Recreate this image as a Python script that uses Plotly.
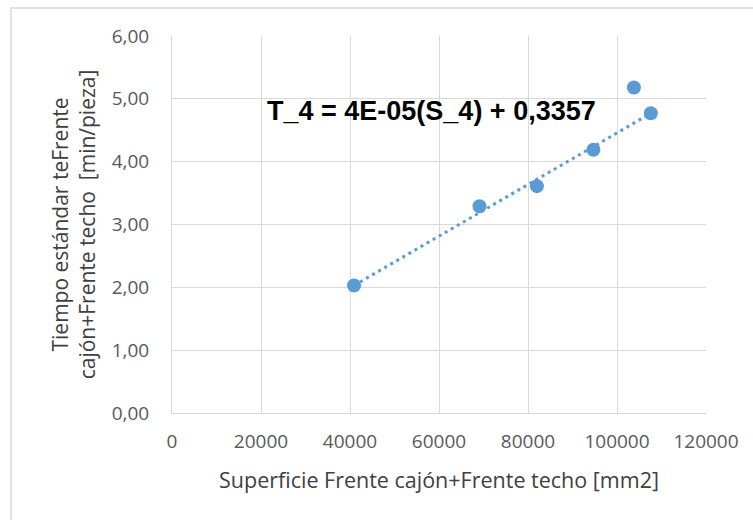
import plotly.graph_objects as go

superficie = [40900, 69100, 82000, 94700, 103800, 107600]
tiempo = [2.03, 3.29, 3.61, 4.19, 5.18, 4.77]
trend_x = [40900, 107600]
trend_y = [2.03, 4.77]
x_ticks = [0, 20000, 40000, 60000, 80000, 100000, 120000]
y_ticks = [0, 1, 2, 3, 4, 5, 6]
equation = "T_4 = 4E-05(S_4) + 0,3357"

blue = "#5B9BD5"
grid = "#D9D9D9"

fig = go.Figure()
fig.add_trace(go.Scatter(x=trend_x, y=trend_y, mode="lines",
                         line=dict(color=blue, width=3, dash="3px,4px"),
                         hoverinfo="skip", showlegend=False))
fig.add_trace(go.Scatter(x=superficie, y=tiempo, mode="markers",
                         marker=dict(color=blue, size=14),
                         showlegend=False))

L, R, T, B = 172, 47, 36, 107
W, H = 753, 520
pw, ph = W - L - R, H - T - B

fig.add_annotation(x=58400, y=4.81, text="<b>" + equation + "</b>",
                   showarrow=False, xanchor="center", yanchor="middle",
                   font=dict(family="Liberation Sans, Arial", size=27, color="#000000"))

# outer chart frame
fig.add_shape(type="rect", xref="paper", yref="paper",
              x0=(11 - L) / pw, x1=(W + 5 - L) / pw,
              y0=(H - (H + 5) - B) / ph, y1=(H - 8 - B) / ph,
              line=dict(color="#D9D9D9", width=1.5), layer="below")

fig.update_layout(
    width=W, height=H,
    margin=dict(l=L, r=R, t=T, b=B),
    paper_bgcolor="white", plot_bgcolor="white",
    separators=", ",
    font=dict(family="Open Sans, sans-serif", size=19, color="#595959"),
    xaxis=dict(range=[0, 120000], tickvals=x_ticks, tickformat="d",
               showgrid=True, gridcolor=grid, gridwidth=1,
               showline=True, linecolor=grid, linewidth=1, mirror=False,
               zeroline=False, ticks="", ticklabelstandoff=11,
               title=dict(text="Superficie Frente cajón+Frente techo [mm2]",
                          font=dict(size=21.5, color="#404040"), standoff=20)),
    yaxis=dict(range=[0, 6], tickvals=y_ticks, tickformat=".2f",
               showgrid=True, gridcolor=grid, gridwidth=1,
               showline=True, linecolor=grid, linewidth=1,
               zeroline=False, ticks="", ticklabelstandoff=18,
               title=dict(text="Tiempo estándar teFrente<br>cajón+Frente techo  [min/pieza]",
                          font=dict(size=21, color="#404040"), standoff=10)),
)

fig.write_html("out.html")
